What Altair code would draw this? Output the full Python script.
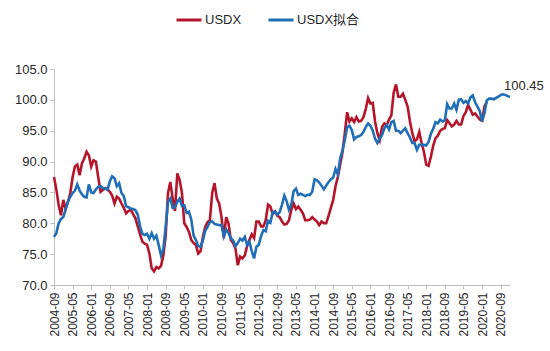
import altair as alt
import pandas as pd

# month index 0 = 2004-09
tick_labels = ["2004-09", "2005-05", "2006-01", "2006-09", "2007-05", "2008-01", "2008-09",
               "2009-05", "2010-01", "2010-09", "2011-05", "2012-01", "2012-09", "2013-05",
               "2014-01", "2014-09", "2015-05", "2016-01", "2016-09", "2017-05", "2018-01",
               "2018-09", "2019-05", "2020-01", "2020-09"]

usdx = [87.5, 85.5, 83.0, 81.3, 83.8, 82.3, 83.5, 84.9, 87.5, 89.2,
        89.5, 87.8, 89.7, 90.5, 91.6, 91.0, 89.2, 90.2, 90.0, 87.5,
        85.1, 85.4, 85.7, 85.5, 85.1, 84.5, 83.2, 84.3, 84.0, 83.2,
        82.5, 81.6, 82.0, 82.2, 81.5, 80.8, 79.5, 78.2, 77.0, 76.7,
        76.5, 75.1, 72.7, 72.2, 72.9, 72.7, 73.1, 74.8, 78.0, 84.9,
        86.7, 84.0, 82.0, 88.1, 87.0, 84.9, 80.0, 79.4, 78.6, 77.3,
        76.8, 76.5, 75.1, 75.5, 77.8, 79.4, 80.2, 80.5, 84.9, 86.5,
        84.0, 83.2, 81.0, 77.6, 81.0, 80.0, 77.3, 76.8, 75.9, 73.2,
        74.6, 74.3, 74.8, 76.3, 77.3, 78.2, 77.6, 80.3, 80.3, 79.5,
        79.5, 80.5, 83.0, 82.7, 81.5, 81.9, 81.2, 81.0, 80.3, 79.8,
        79.9, 80.5, 82.2, 83.2, 82.3, 82.7, 82.2, 81.6, 80.5, 80.5,
        80.6, 81.0, 80.6, 80.3, 79.7, 80.3, 80.0, 80.0, 81.2, 82.5,
        83.8, 86.0, 87.5, 89.5, 91.5, 94.6, 98.0, 96.5, 97.0, 96.4,
        97.2, 96.5, 96.6, 97.2, 98.5, 100.3, 99.4, 99.5, 96.5, 94.6,
        93.5, 95.6, 96.2, 95.9, 96.8, 97.5, 101.2, 102.5, 100.5, 100.5,
        101.0, 100.0, 98.9, 96.5, 94.6, 93.3, 93.6, 94.8, 93.0, 91.6,
        89.5, 89.3, 90.8, 92.6, 93.8, 94.2, 95.0, 95.3, 95.4, 96.7,
        96.2, 95.7, 96.0, 96.6, 96.0, 96.0, 97.4, 98.0, 99.2, 98.4,
        97.6, 97.8, 97.3, 96.8, 96.6, 98.9, 99.7]

usdx_fit = [77.8, 78.4, 80.0, 80.7, 81.0, 82.3, 83.5, 84.3, 84.9, 85.3,
            86.3, 85.3, 84.7, 84.3, 84.2, 86.3, 85.0, 84.9, 85.5, 85.9,
            86.0, 85.7, 85.6, 85.4, 86.8, 87.6, 87.3, 86.0, 86.5, 84.9,
            84.4, 82.8, 82.6, 82.4, 82.3, 82.1, 81.4, 79.5, 78.3, 78.1,
            78.3, 77.5, 78.4, 77.5, 78.0, 76.5, 74.8, 75.8, 79.5, 83.5,
            84.0, 82.5, 82.6, 83.5, 84.0, 82.8, 82.9, 81.7, 81.9, 80.6,
            78.0, 77.3, 76.3, 76.2, 77.2, 78.8, 79.4, 80.2, 80.3, 79.9,
            79.8, 79.7, 79.7, 77.9, 79.0, 78.4, 77.6, 77.2, 76.3, 76.8,
            77.5, 77.2, 77.8, 76.5, 77.0, 75.5, 74.3, 76.2, 76.5, 77.9,
            78.9, 78.7, 80.4, 80.1, 81.8, 81.9, 81.4, 81.8, 83.0, 84.5,
            83.6, 82.2, 83.0, 85.2, 85.6, 84.6, 84.8, 84.6, 84.4, 84.6,
            84.6, 85.1, 87.1, 87.0, 86.6, 86.1, 85.5, 86.1, 86.7, 87.1,
            87.4, 88.8, 87.9, 90.5, 91.8, 93.5, 95.6, 95.8, 95.1, 93.6,
            94.0, 94.1, 94.3, 94.8, 95.6, 96.2, 95.8, 95.0, 93.7, 93.0,
            93.7, 94.3, 95.4, 95.9, 95.2, 96.4, 96.6, 95.0, 95.0, 94.6,
            95.0, 95.4, 94.6, 93.9, 93.0, 93.0, 91.9, 92.7, 92.7, 92.7,
            92.6, 93.2, 94.5, 95.3, 96.4, 96.2, 96.8, 96.5, 96.7, 99.3,
            98.6, 98.6, 99.4, 98.4, 100.0, 100.1, 99.5, 99.8, 99.4, 100.4,
            100.7, 99.6, 98.9, 98.2, 96.5, 97.8, 99.9, 100.2, 100.2, 100.1,
            100.3, 100.5, 100.8, 100.9, 100.8, 100.6, 100.45]

series_names = ["USDX", "USDX拟合"]
colors = ["#B5152B", "#1F6EB7"]

rows = []
for i, v in enumerate(usdx):
    rows.append({"idx": i, "value": v, "series": series_names[0]})
for i, v in enumerate(usdx_fit):
    rows.append({"idx": i, "value": v, "series": series_names[1]})
df = pd.DataFrame(rows)

last = pd.DataFrame([{"idx": len(usdx_fit) - 1, "value": usdx_fit[-1],
                      "label": f"{usdx_fit[-1]:.2f}"}])

label_arr = "[" + ",".join(f"'{t}'" for t in tick_labels) + "]"
font = "Liberation Sans, Arial, 'Noto Sans CJK SC', sans-serif"

x_axis = alt.Axis(values=list(range(0, 193, 8)), labelExpr=f"{label_arr}[round(datum.value/8)]",
                  labelAngle=270, labelAlign="right", labelBaseline="middle",
                  title=None, grid=False, domainColor="#BFBFBF", tickColor="#BFBFBF",
                  tickSize=4, labelPadding=3, labelFontSize=12, labelColor="#262626",
                  labelFont=font, labelOverlap=False, labelFlush=False)
y_axis = alt.Axis(values=list(range(70, 106, 5)), format=".1f", title=None, grid=False,
                  domainColor="#BFBFBF", tickColor="#BFBFBF", tickSize=4, labelPadding=3,
                  labelFontSize=13, labelColor="#262626", labelFont=font,
                  labelOverlap=False, labelFlush=False)
x_scale = alt.Scale(domain=[0, 196], nice=False, zero=False)
y_scale = alt.Scale(domain=[70, 105], nice=False, zero=False)

lines = alt.Chart(df).mark_line(strokeWidth=2.6).encode(
    x=alt.X("idx:Q", scale=x_scale, axis=x_axis),
    y=alt.Y("value:Q", scale=y_scale, axis=y_axis),
    color=alt.Color("series:N", scale=alt.Scale(domain=series_names, range=colors),
                    sort=series_names,
                    legend=alt.Legend(title=None, orient="none", legendX=121, legendY=-63,
                                      direction="horizontal", symbolType="stroke",
                                      symbolSize=625, symbolStrokeWidth=3,
                                      labelFontSize=13, labelFont=font, labelColor="#262626",
                                      columnPadding=20, labelOffset=2)),
    detail="series:N"
)

text = alt.Chart(last).mark_text(align="left", dx=-6, dy=-11, fontSize=13, font=font,
                                 color="#262626").encode(
    x=alt.X("idx:Q", scale=x_scale, axis=x_axis),
    y=alt.Y("value:Q", scale=y_scale, axis=y_axis),
    text="label:N")

chart = alt.layer(lines, text).properties(
    width=456, height=216,
    autosize=alt.AutoSizeParams(type="none"),
    padding={"left": 54, "top": 69, "right": 40, "bottom": 66},
    background="white"
).configure_view(stroke=None)

chart.save("out.html", embed_options={"renderer": "svg", "actions": False})
